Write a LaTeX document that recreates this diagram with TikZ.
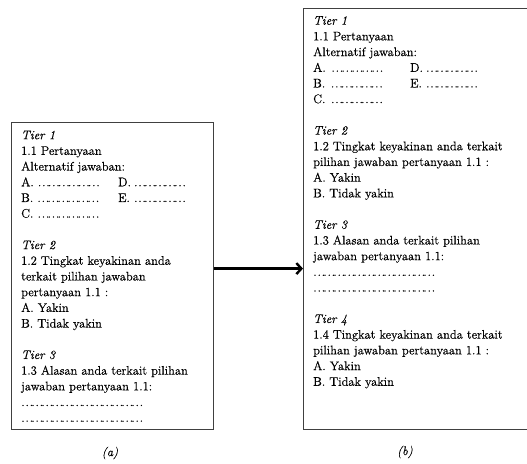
\documentclass[tikz,border=0pt]{standalone}
\usepackage{fontspec}
\setmainfont{Latin Modern Roman}[FakeBold=0.5]
\usepackage{tikz}
\usetikzlibrary{arrows.meta}

\newcommand{\titik}[1]{\makebox[#1][l]{\cleaders\hbox to 10pt{\hss.\kern0.8pt.\kern0.8pt.\hss}\hfill}}
\newcommand{\opsi}[1]{\makebox[97pt][l]{#1}}

\begin{document}
\begin{tikzpicture}[x=1pt,y=-1pt,
            box node/.style={draw=black!75,line width=1.2pt,anchor=north west,inner sep=0pt},
            text node/.style={anchor=north west,align=left,inner sep=0pt,font=\fontsize{12.5}{15.7}\selectfont},
            cap node/.style={font=\fontsize{12.5}{14}\selectfont\itshape},
            arrow line/.style={line width=2.4pt,-{Straight Barb[length=5pt,width=11pt]}},
            ]
            
            \useasboundingbox (0,0) rectangle (527,463);
            
            \node[box node,minimum width=202pt,minimum height=307pt] (boxa) at (11,122) {};
            \node[box node,minimum width=240pt,minimum height=421pt] (boxb) at (303,8) {};
            
            \node[text node] (texta) at (21,130.5) {\textit{Tier 1}\\
                1.1 Pertanyaan\\
                Alternatif jawaban:\\
                \opsi{A. \titik{62pt}}D. \titik{50pt}\\
                \opsi{B. \titik{62pt}}E. \titik{52pt}\\
                C. \titik{62pt}\\[15.7pt]
                \textit{Tier 2}\\
                1.2 Tingkat keyakinan anda\\
                terkait pilihan jawaban\\
                pertanyaan 1.1 :\\
                A. Yakin\\
                B. Tidak yakin\\[15.7pt]
                \textit{Tier 3}\\
                1.3 Alasan anda terkait pilihan\\
                jawaban pertanyaan 1.1:\\
                \titik{122pt}\\
                \titik{122pt}};
            
            \node[text node] (textb) at (313,16) {\textit{Tier 1}\\
                1.1 Pertanyaan\\
                Alternatif jawaban:\\
                \opsi{A. \titik{55pt}}D. \titik{50pt}\\
                \opsi{B. \titik{55pt}}E. \titik{52pt}\\
                C. \titik{55pt}\\[15.7pt]
                \textit{Tier 2}\\
                1.2 Tingkat keyakinan anda terkait\\
                pilihan jawaban pertanyaan 1.1 :\\
                A. Yakin\\
                B. Tidak yakin\\[15.7pt]
                \textit{Tier 3}\\
                1.3 Alasan anda terkait pilihan\\
                jawaban pertanyaan 1.1:\\
                \titik{122pt}\\
                \titik{122pt}\\[15.7pt]
                \textit{Tier 4}\\
                1.4 Tingkat keyakinan anda terkait\\
                pilihan jawaban pertanyaan 1.1 :\\
                A. Yakin\\
                B. Tidak yakin};
            
            \coordinate (tail) at ([yshift=7.5pt]boxa.east);
            \draw[arrow line] (tail) -- (tail -| boxb.west);
            
            \node[cap node] (capa) at (110,453) {(a)};
            \node[cap node] (capb) at (405,452) {(b)};
        \end{tikzpicture}
\end{document}
